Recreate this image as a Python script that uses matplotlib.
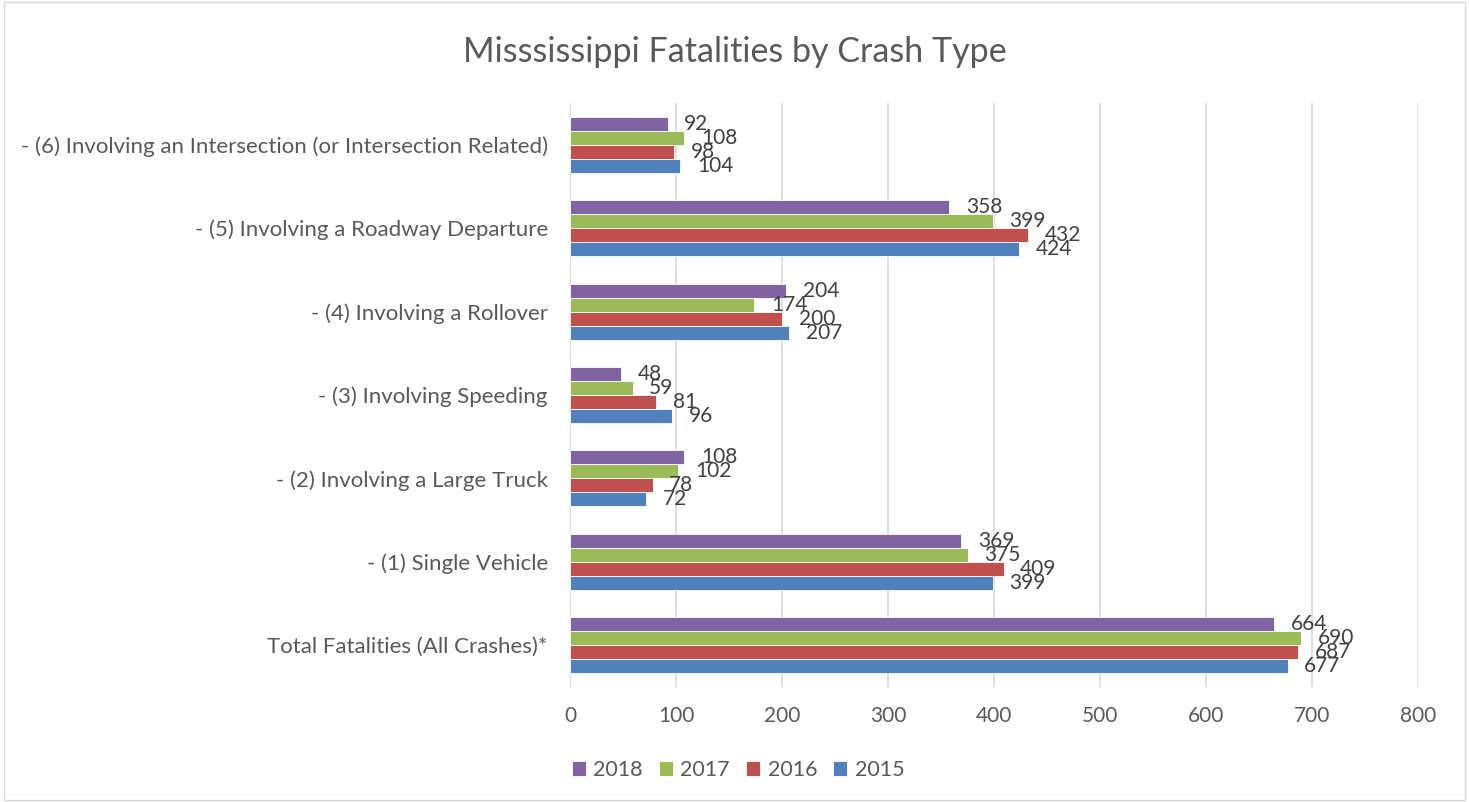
import matplotlib.pyplot as plt
import numpy as np

categories = [
    'Total Fatalities (All Crashes)*',
    '- (1) Single Vehicle',
    '- (2) Involving a Large Truck',
    '- (3) Involving Speeding',
    '- (4) Involving a Rollover',
    '- (5) Involving a Roadway Departure',
    '- (6) Involving an Intersection (or Intersection Related)',
]
years = ['2015', '2016', '2017', '2018']
v2015 = [677, 399, 72, 96, 207, 424, 104]
v2016 = [687, 409, 78, 81, 200, 432, 98]
v2017 = [690, 375, 102, 59, 174, 399, 108]
v2018 = [664, 369, 108, 48, 204, 358, 92]
colors = ['#4F81BD', '#C0504D', '#9BBB59', '#8064A2']

plt.rcParams['font.family'] = ['Lato', 'DejaVu Sans']
txt = '#595959'

fig = plt.figure(figsize=(14.69, 8.02), dpi=100)
ax = fig.add_axes([570 / 1469, 1 - 687 / 802, 848 / 1469, 584 / 802])

series = [v2015, v2016, v2017, v2018]
y = np.arange(len(categories))
h = 0.168
for i, (vals, c) in enumerate(zip(series, colors)):
    pos = y + (i - 1.5) * h
    ax.barh(pos, vals, height=h, color=c, edgecolor='white', linewidth=0.6,
            label=years[i], zorder=3)
    for p, v in zip(pos, vals):
        ax.annotate(str(v), (v, p), xytext=(12, 0), textcoords='offset points',
                    ha='left', va='center', fontsize=15, color='#404040', zorder=4)

ax.set_xlim(0, 800)
ax.set_ylim(-0.5, len(categories) - 0.5)
ax.set_xticks(range(0, 801, 100))
ax.set_yticks(y)
ax.set_yticklabels(categories)
ax.tick_params(axis='both', length=0, colors=txt)
ax.tick_params(axis='x', pad=14, labelsize=15)
ax.tick_params(axis='y', pad=16, labelsize=16)
ax.grid(axis='x', color='#D9D9D9', linewidth=1.2, zorder=0)
for s in ax.spines.values():
    s.set_visible(False)

fig.suptitle('Misssissippi Fatalities by Crash Type', y=1 - 52 / 802, va='center',
             fontsize=24.5, color=txt)

handles, labels = ax.get_legend_handles_labels()
fig.legend(handles[::-1], labels[::-1], loc='center', bbox_to_anchor=(738 / 1469, 1 - 770 / 802),
           ncol=4, frameon=False, fontsize=15.5, labelcolor=txt, handlelength=0.65,
           handleheight=0.65, columnspacing=0.75, handletextpad=0.35)

fig.patches.append(plt.Rectangle((0.003, 0.003), 0.994, 0.994, transform=fig.transFigure,
                                 fill=False, edgecolor='#D9D9D9', linewidth=1))

fig.savefig('out.png', dpi=100)
